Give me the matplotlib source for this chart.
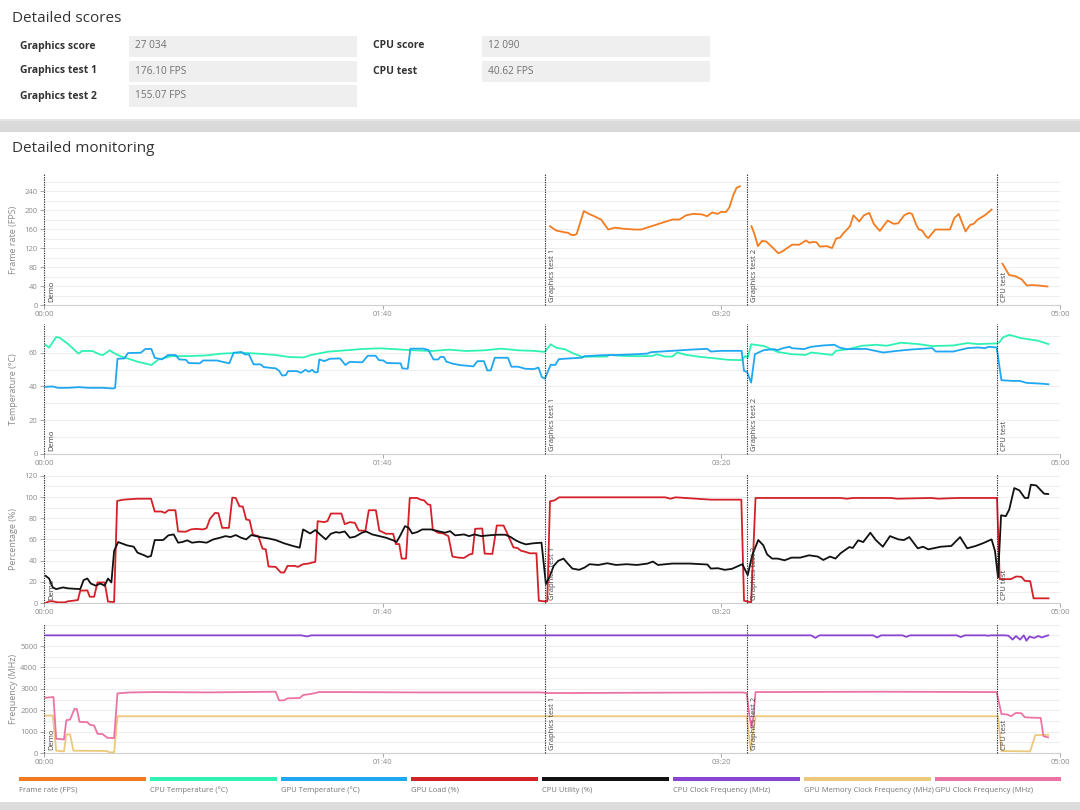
import numpy as np
import matplotlib
matplotlib.use('Agg')
import matplotlib.pyplot as plt
from matplotlib.patches import Rectangle
import matplotlib.transforms as mtransforms

plt.rcParams['font.family'] = ['Open Sans', 'DejaVu Sans']

nan = np.nan

# ---------------- data ----------------
score_labels_left = ["Graphics score", "Graphics test 1", "Graphics test 2"]
score_values_left = ["27 034", "176.10 FPS", "155.07 FPS"]
score_labels_right = ["CPU score", "CPU test"]
score_values_right = ["12 090", "40.62 FPS"]

marker_times = [0, 148, 207.5, 281.5]
marker_names = ["Demo", "Graphics test 1", "Graphics test 2", "CPU test"]

xtick_vals = [0, 100, 200, 300]
xtick_labels = ["00:00", "01:40", "03:20", "05:00"]

legend_names = ["Frame rate (FPS)", "CPU Temperature (°C)", "GPU Temperature (°C)",
                "GPU Load (%)", "CPU Utility (%)", "CPU Clock Frequency (MHz)",
                "GPU Memory Clock Frequency (MHz)", "GPU Clock Frequency (MHz)"]

fps_t = [149.4, 151.2, 153.8, 154.8, 155.6, 156.6, 157.3, 159.4, 160.9, 162.5, 164.5, 166.6,
         168.6, 170.7, 174.2, 176.3, 179.4, 182.4, 185.5, 187.6, 189.6, 191.7, 194.2, 195.8,
         197.3, 198.9, 199.9, 201.4, 202.4, 203.5, 204.5, 205.5, nan,
         208.9, 209.9, 210.8, 212.0, 213.2, 215.3, 216.8, 217.8, 220.9, 223.0, 225.0, 226.0,
         227.1, 228.1, 229.1, 231.1, 232.7, 233.9, 235.0, 236.3, 238.0, 239.0, 240.7, 242.1,
         243.7, 245.0, 246.8, 249.1, 250.9, 252.2, 254.0, 255.4, 256.3, 257.5, 258.3, 259.3,
         260.4, 261.1, 263.2, 265.5, 267.5, 268.8, 270.1, 272.1, 273.5, 274.5, 275.7, 277.8,
         279.8, nan,
         283.0, 285.0, 286.7, 288.7, 290.2, 291.7, 293.8, 296.3]
fps_v = [166, 157, 153, 152, 148, 147, 150, 198, 192, 187, 180, 159,
         163, 161, 159, 159, 166, 173, 180, 180, 189, 192, 191, 187,
         195, 192, 196, 196, 206, 231, 247, 250, nan,
         166, 147, 124, 135, 134, 120, 109, 112, 127, 127, 136, 131,
         133, 132, 123, 124, 120, 140, 142, 153, 166, 189, 176, 189,
         194, 171, 156, 178, 171, 172, 189, 194, 192, 170, 159, 157,
         145, 141, 159, 159, 159, 183, 192, 155, 169, 171, 180, 189,
         201, nan,
         87, 63, 61, 54, 41, 42, 41, 39]

cpu_temp_t = [0.5, 1.5, 3.6, 4.6, 7.2, 10.2, 11.2, 14.3, 16.4, 17.4, 19.4, 21.0, 22.5, 27.6,
              31.7, 33.8, 37.8, 42.9, 48.0, 52.1, 58.3, 63.4, 68.5, 72.6, 76.7, 78.7, 80.8,
              83.8, 89.0, 94.0, 99.2, 104.3, 109.4, 114.5, 119.6, 124.7, 129.9, 135.0, 140.0,
              144.5, 147.9, 149.6, 151.2, 153.8, 156.4, 159.0, 162.6, 166.3, 166.8, 170.9,
              175.1, 179.8, 180.8, 183.4, 185.5, 187.0, 189.6, 193.8, 197.9, 202.0, 206.0,
              207.1, 207.8, 208.8, 212.5, 216.6, 220.8, 224.9, 226.5, 232.7, 233.8, 237.4,
              241.6, 245.8, 248.8, 253.0, 258.2, 262.3, 268.5, 272.7, 275.8, 281.3, 282.1,
              283.1, 285.0, 288.3, 293.5, 296.6]
cpu_temp_v = [64.6, 63.0, 69.3, 68.9, 65.0, 59.4, 61.0, 61.0, 59.0, 58.6, 61.4, 59.4, 58.0, 54.7,
              52.7, 56.0, 58.0, 58.0, 58.4, 59.4, 60.0, 59.4, 58.6, 57.4, 57.2, 58.6, 59.4,
              60.6, 61.4, 62.2, 62.6, 62.0, 61.4, 61.0, 61.8, 61.0, 61.4, 62.4, 61.4,
              61.1, 60.5, 65.0, 63.0, 62.0, 59.5, 57.5, 57.7, 57.7, 58.7, 58.1,
              57.9, 58.1, 59.1, 57.7, 57.7, 60.1, 58.7, 57.5, 56.7, 55.8, 55.6,
              58.1, 57.0, 65.0, 64.0, 60.5, 59.1, 58.7, 60.1, 58.7, 61.1, 62.1,
              64.1, 64.7, 64.1, 65.9, 65.1, 63.9, 64.3, 65.7, 65.1, 65.5, 66.1,
              69.0, 70.6, 68.7, 67.1, 65.1]

gpu_temp_t = [0.5, 2.6, 4.1, 7.2, 10.2, 13.3, 17.4, 20.4, 21.0, 21.7, 23.7, 24.8, 28.6, 29.9,
              31.7, 32.7, 34.8, 36.6, 38.9, 39.9, 41.9, 42.7, 46.0, 47.0, 51.1, 52.1, 54.7,
              56.0, 58.3, 59.3, 60.5, 61.9, 63.9, 64.9, 66.5, 68.5, 69.5, 70.3, 71.4, 72.1,
              74.6, 75.9, 77.2, 78.2, 79.2, 80.0, 80.8, 81.3, 82.8, 84.4, 87.4, 89.0, 90.2,
              91.5, 94.0, 95.6, 97.9, 98.9, 100.2, 101.2, 105.3, 105.8, 107.4, 108.2, 112.0,
              113.5, 115.0, 116.4, 117.1, 118.1, 118.8, 120.7, 122.7, 125.8, 126.8, 128.0,
              129.9, 130.9, 131.9, 133.1, 137.0, 138.0, 140.0, 142.1, 144.7, 146.0, 147.0,
              147.9, 149.6, 151.0, 152.0, 154.3, 159.0, 159.5, 164.7, 169.9, 175.1, 178.2,
              179.2, 185.5, 191.7, 195.8, 196.9, 200.0, 206.0, 206.7, 207.6, 208.8, 209.9,
              212.5, 215.6, 216.6, 218.2, 220.2, 220.8, 224.4, 226.5, 230.1, 233.4, 234.8,
              236.9, 242.6, 247.8, 251.9, 256.1, 262.3, 263.3, 268.5, 272.7, 275.8, 277.9,
              278.9, 281.3, 282.7, 286.0, 288.1, 290.2, 294.3, 296.6]
gpu_temp_v = [39.8, 40.0, 39.2, 39.2, 39.6, 39.2, 39.2, 38.8, 39.2, 56.4, 56.6, 59.8, 60.0, 62.2,
              62.2, 57.0, 56.0, 58.6, 58.6, 56.0, 55.8, 53.9, 53.7, 55.4, 55.4, 54.9, 53.7,
              60.0, 60.4, 59.0, 59.0, 53.1, 53.1, 51.5, 51.1, 50.7, 49.1, 46.5, 46.7, 49.1,
              49.1, 48.1, 49.9, 48.7, 49.9, 48.3, 48.5, 56.0, 55.0, 56.4, 56.6, 52.7, 54.5,
              54.5, 54.3, 58.2, 58.2, 55.6, 55.4, 53.9, 53.7, 50.7, 50.5, 62.4, 62.4,
              61.6, 56.0, 56.0, 57.6, 57.4, 54.7, 53.5, 52.7, 52.1, 51.9, 55.0,
              55.0, 49.5, 49.5, 57.0, 57.0, 51.7, 51.7, 50.5, 50.3, 51.2, 45.6,
              44.6, 52.8, 52.8, 56.2, 56.5, 57.1, 57.9, 58.5, 58.7, 59.1, 59.5,
              60.3, 61.1, 61.9, 62.3, 60.7, 61.1, 61.1, 49.2, 48.6, 42.3, 59.1,
              61.5, 62.1, 61.5, 62.7, 63.5, 62.7, 62.1, 63.5, 64.3, 64.7, 63.1,
              62.1, 62.3, 60.1, 61.1, 61.9, 62.7, 60.7, 60.7, 62.7, 63.1, 62.7,
              63.5, 63.1, 43.7, 43.3, 43.3, 42.1, 41.7, 41.3]

gpu_load_t = [0.5, 1.5, 2.6, 4.1, 6.1, 7.1, 8.7, 10.0, 10.7, 12.8, 13.5, 14.8, 15.8, 17.9, 18.9,
              20.7, 21.6, 23.5, 27.6, 31.6, 32.7, 34.7, 35.7, 36.7, 38.8, 39.6, 41.8, 43.4,
              44.9, 46.9, 48.0, 49.0, 50.5, 51.5, 52.6, 54.6, 55.6, 56.6, 57.7, 58.7, 59.7,
              60.7, 61.7, 63.3, 64.5, 65.5, 66.3, 68.4, 69.9, 70.9, 71.9, 74.0, 75.0, 76.5,
              78.1, 79.1, 80.1, 80.8, 82.7, 83.7, 84.7, 87.8, 88.8, 90.3, 91.8, 92.9, 94.9,
              95.9, 98.0, 99.0, 101.0, 103.1, 103.9, 104.9, 105.6, 106.9, 108.0, 110.2, 111.2,
              112.2, 113.3, 114.1, 114.8, 116.3, 117.9, 119.4, 120.6, 122.4, 124.0, 125.7,
              126.5, 127.3, 129.4, 130.1, 132.4, 133.7, 135.7, 136.7, 138.6, 139.8, 140.8,
              142.3, 143.4, 145.4, 146.1, 147.5, 148.6, 149.4, 150.8, 152.1, 183.4, 185.0,
              186.5, 196.9, 205.9, 206.7, 208.8, 210.1, 235.2, 237.0, 239.0, 250.0, 252.0,
              262.0, 264.0, 270.0, 272.0, 281.4, 282.2, 285.5, 287.0, 288.6, 289.6, 291.2,
              292.2, 296.6]
gpu_load_v = [0, 1.6, 1.6, 0.6, 0.6, 1.6, 2.2, 2.8, 11.6, 11.9, 5.9, 5.9, 19.4, 19.4, 1.3,
              0.9, 96.3, 97.5, 98.4, 98.4, 86.3, 86.3, 85.0, 87.5, 87.5, 67.5, 67.2, 69.4,
              70.0, 69.4, 70.6, 79.4, 85.0, 84.7, 70.9, 70.9, 99.4, 99.1, 91.3, 90.9, 78.8,
              78.1, 64.4, 63.1, 51.3, 50.6, 34.4, 34.1, 28.8, 28.8, 35.0, 35.0, 34.1, 36.6,
              37.2, 38.1, 38.8, 77.2, 76.3, 77.2, 84.4, 84.4, 74.4, 76.3, 75.6, 68.4, 68.1,
              87.5, 87.5, 68.4, 65.3, 65.3, 55.6, 55.6, 41.9, 41.9, 99.1, 99.1, 97.5,
              96.9, 93.1, 92.5, 69.4, 66.3, 65.6, 63.1, 43.8, 42.8, 42.5, 45.9,
              46.3, 70.0, 70.3, 46.6, 46.3, 73.1, 73.1, 66.3, 52.5, 51.9, 49.4,
              48.1, 46.9, 46.9, 2.2, 1.6, 1.6, 95.9, 96.9, 99.7, 99.7, 98.4,
              99.7, 97.5, 97.5, 2.2, 0.6, 99.1, 99.1, 98.4, 99.1, 99.1, 98.4,
              99.1, 98.4, 99.1, 99.1, 99.1, 22.5, 22.5, 25.0, 24.7, 20.9, 20.6,
              4.4, 4.4]

cpu_util_t = [0.5, 1.5, 2.6, 3.6, 5.6, 7.1, 10.7, 11.7, 12.8, 13.8, 15.3, 16.6, 17.9, 18.9, 19.9,
              20.7, 21.9, 24.5, 26.5, 27.6, 29.6, 30.6, 31.6, 32.7, 35.2, 36.7, 38.3, 39.6,
              40.8, 42.3, 43.7, 45.9, 48.0, 50.0, 52.0, 53.6, 55.1, 56.6, 58.2, 59.7, 61.2,
              63.8, 66.3, 68.4, 70.9, 73.5, 75.5, 76.5, 78.6, 80.1, 81.6, 83.2, 84.7, 86.2,
              87.2, 88.8, 90.3, 91.8, 93.9, 95.1, 96.9, 99.0, 101.0, 103.1, 104.1, 105.1,
              106.6, 107.7, 108.7, 110.2, 111.7, 114.3, 116.3, 118.4, 119.9, 121.4, 124.0,
              125.5, 127.1, 129.1, 131.2, 133.7, 136.2, 137.8, 139.3, 140.8, 142.3, 144.4,
              146.9, 148.2, 149.2, 150.5, 151.8, 153.4, 154.4, 156.0, 158.0, 159.6, 161.1,
              163.7, 166.3, 168.9, 172.0, 175.1, 178.2, 179.8, 181.3, 185.5, 190.7, 195.9,
              196.9, 199.0, 201.0, 203.1, 206.2, 207.8, 209.1, 210.9, 212.4, 213.5, 215.0,
              216.6, 218.7, 220.7, 223.3, 225.9, 228.5, 230.1, 232.1, 233.7, 235.2, 237.8,
              238.8, 240.4, 241.9, 244.0, 245.6, 247.7, 249.8, 252.3, 253.9, 255.5, 258.0,
              259.6, 261.1, 264.8, 267.9, 270.5, 272.6, 275.1, 277.2, 279.8, 280.8, 281.7,
              282.6, 284.0, 285.0, 286.5, 288.0, 289.6, 290.6, 291.4, 293.0, 294.0, 295.3,
              296.5]
cpu_util_v = [25.6, 23.1, 14.7, 13.1, 14.7, 13.8, 13.1, 21.6, 23.1, 18.4, 16.3, 18.4, 16.3, 23.1, 19.4,
              49.1, 57.5, 54.4, 53.1, 47.5, 45.0, 43.4, 44.4, 59.4, 59.4, 63.8, 64.7, 56.9,
              57.5, 59.1, 56.9, 57.8, 56.9, 60.0, 61.6, 63.1, 62.2, 64.1, 61.6, 60.0, 64.1,
              62.2, 60.9, 59.4, 56.3, 53.8, 52.2, 69.4, 65.6, 68.8, 64.4, 60.0, 65.3, 66.9,
              66.3, 67.5, 61.6, 62.5, 66.3, 67.5, 64.7, 63.1, 61.6, 59.1, 57.5, 63.1,
              72.5, 70.9, 65.6, 66.9, 69.4, 69.4, 67.8, 66.3, 67.8, 63.8, 64.7,
              63.1, 64.7, 63.1, 63.8, 64.4, 64.4, 62.2, 59.1, 56.9, 55.3, 56.3,
              56.9, 17.8, 24.1, 35.0, 39.7, 41.9, 38.1, 32.5, 31.3, 33.4, 36.6,
              35.9, 37.5, 35.9, 36.6, 35.9, 37.2, 39.1, 35.9, 37.2, 37.2, 36.3,
              32.5, 32.8, 31.3, 32.2, 36.6, 26.3, 45.0, 59.4, 54.4, 45.9, 41.9,
              41.9, 40.3, 42.8, 42.8, 45.0, 43.8, 40.6, 43.8, 41.9, 46.9, 52.8,
              51.9, 59.1, 57.5, 66.3, 59.4, 53.1, 63.1, 60.0, 59.4, 62.2, 51.6,
              53.1, 50.6, 53.1, 53.8, 62.2, 51.6, 53.8, 56.3, 60.0, 49.1, 24.1,
              82.8, 81.9, 88.1, 108.4, 106.3, 99.1, 99.1, 111.6, 110.9, 107.5, 103.1,
              102.8]

cpu_clock_t = [0.5, 60.0, 76.0, 77.6, 79.0, 120.0, 180.0, 226.5, 227.8, 229.0, 244.8, 246.0,
               247.2, 253.5, 254.6, 255.8, 269.5, 270.7, 271.9, 278.0, 278.8, 279.6, 281.9,
               283.8, 284.8, 286.0, 287.0, 288.2, 289.3, 290.1, 291.0, 292.4, 293.6, 294.6,
               296.5]
cpu_clock_v = [5500, 5500, 5500, 5450, 5500, 5500, 5500, 5500, 5380, 5500, 5500, 5400,
               5500, 5500, 5430, 5500, 5500, 5420, 5500, 5500, 5480, 5500, 5500,
               5500, 5480, 5300, 5470, 5300, 5500, 5250, 5440, 5380, 5470, 5400,
               5500]

gpu_clock_t = [0.5, 2.8, 3.6, 5.9, 6.6, 7.7, 9.0, 9.7, 10.5, 12.8, 13.6, 14.8, 15.8, 17.3, 18.7,
               20.7, 21.7, 25.5, 32.7, 48.0, 58.2, 68.4, 69.4, 70.9, 71.9, 75.5, 76.5, 78.6,
               80.1, 81.1, 88.8, 109.2, 129.6, 146.4, 149.2, 206.2, 207.5, 208.3, 208.9,
               209.5, 210.1, 247.7, 281.3, 282.7, 284.5, 285.5, 287.0, 288.6, 289.6, 291.2,
               294.3, 295.1, 296.5]
gpu_clock_v = [2585, 2616, 666, 635, 1533, 1563, 2059, 2059, 1455, 1440, 1316, 1285, 898, 882, 712,
               697, 2786, 2833, 2848, 2833, 2848, 2864, 2461, 2461, 2554, 2570, 2709, 2755,
               2802, 2848, 2848, 2833, 2833, 2833, 2802, 2833, 2802, 1718, 1176,
               1718, 2848, 2864, 2848, 1827, 1796, 1718, 1873, 1858, 1672, 1656,
               1641, 789, 728]

gpu_mem_t = [0.5, 2.6, 3.6, 5.9, 6.6, 7.7, 8.7, 18.4, 19.4, 20.7, 21.7, 146.4, 207.5, 208.1,
             208.7, 209.5, 210.1, 281.7, 282.7, 291.2, 292.7, 296.5]
gpu_mem_v = [1749, 1749, 108, 77, 867, 867, 108, 93, 31, 31, 1718, 1718, 1718, 944,
             93, 1099, 1718, 1718, 93, 77, 836, 851]

colors = ['#f47c20', '#2ef2b4', '#1fa8f2', '#d42028', '#111111', '#8a44d4', '#ecc97a', '#ec74a4']

# ---------------- figure ----------------
W, H = 1080, 810
fig = plt.figure(figsize=(10.8, 8.1), dpi=100)


def fx(x):
    return x / W


def fy(y):
    return 1 - y / H


def frect(x0, y0, x1, y1, color, z=0):
    fig.patches.append(Rectangle((fx(x0), fy(y1)), fx(x1) - fx(x0), fy(y0) - fy(y1),
                                 transform=fig.transFigure, facecolor=color,
                                 edgecolor='none', zorder=z))

# page background bands
frect(0, 121, 1080, 132, '#d9d9d9')
frect(0, 119, 1080, 121, '#e6e6e6')
frect(0, 802, 1080, 810, '#dcdcdc')

# header texts
fig.text(fx(12), fy(18), "Detailed scores", fontsize=11, color='#333333', va='center', ha='left')
fig.text(fx(12), fy(149), "Detailed monitoring", fontsize=11, color='#333333', va='center',
         ha='left')

row_y = [46, 71, 96]
for i, (lab, val) in enumerate(zip(score_labels_left, score_values_left)):
    y = row_y[i]
    frect(129, y - 10.5, 357, y + 10.5, '#efefef')
    fig.text(fx(20), fy(y), lab, fontsize=7.5, fontweight='bold', color='#333333', va='center')
    fig.text(fx(135), fy(y), val, fontsize=7.3, color='#707070', va='center')
for i, (lab, val) in enumerate(zip(score_labels_right, score_values_right)):
    y = row_y[i]
    frect(482, y - 10.5, 710, y + 10.5, '#efefef')
    fig.text(fx(373), fy(y), lab, fontsize=7.5, fontweight='bold', color='#333333', va='center')
    fig.text(fx(488), fy(y), val, fontsize=7.3, color='#707070', va='center')

# ---------------- panels ----------------
left_px, right_px = 44, 1060
panels = [
    dict(top=174, bottom=305, ymax=276, major=40, minor=20, label="Frame rate (FPS)"),
    dict(top=324, bottom=454, ymax=77, major=20, minor=10, label="Temperature (°C)"),
    dict(top=474, bottom=603, ymax=121.7, major=20, minor=10, label="Percentage (%)"),
    dict(top=624, bottom=753, ymax=6030, major=1000, minor=500, label="Frequency (MHz)",
         last=5000),
]

axes = []
for p in panels:
    ax = fig.add_axes([fx(left_px), fy(p['bottom']), fx(right_px) - fx(left_px),
                       fy(p['top']) - fy(p['bottom'])])
    ax.set_xlim(0, 300)
    ax.set_ylim(0, p['ymax'])
    for s in ['top', 'right', 'left']:
        ax.spines[s].set_visible(False)
    ax.spines['bottom'].set_color('#cfcfcf')
    ax.spines['bottom'].set_linewidth(0.8)
    last = p.get('last', p['ymax'])
    ax.set_yticks(np.arange(0, last + 0.01, p['major']))
    ax.set_yticks(np.arange(0, p['ymax'] + 0.01, p['minor']), minor=True)
    ax.grid(which='both', axis='y', color='#eeeeee', lw=0.8, zorder=0)
    ax.set_axisbelow(True)
    ax.tick_params(axis='y', which='major', length=3, width=0.6, color='#9a9a9a',
                   labelcolor='#8a8a8a', labelsize=5.5, pad=1.5)
    ax.tick_params(axis='y', which='minor', length=0)
    ax.set_xticks(xtick_vals)
    ax.set_xticklabels(xtick_labels)
    ax.tick_params(axis='x', length=3, width=0.6, color='#9a9a9a', labelcolor='#8a8a8a',
                   labelsize=5.5, pad=1.5)
    ax.set_ylabel(p['label'], fontsize=6.5, color='#8a8a8a')
    ax.yaxis.set_label_coords(-0.026, 0.5)
    trans = mtransforms.blended_transform_factory(ax.transData, ax.transAxes)
    for mt, mn in zip(marker_times, marker_names):
        ax.axvline(mt, color='#333333', lw=0.8, ls=(0, (1.2, 1.0)), clip_on=False, zorder=5)
        ax.text(mt + 1.2, 0.025, mn, rotation=90, fontsize=5.5, color='#444444',
                ha='left', va='bottom', transform=trans, zorder=6)
    axes.append(ax)

lw = 1.3
ax1, ax2, ax3, ax4 = axes
ax1.plot(fps_t, fps_v, color=colors[0], lw=lw, zorder=3)
ax2.plot(cpu_temp_t, cpu_temp_v, color=colors[1], lw=lw, zorder=3)
ax2.plot(gpu_temp_t, gpu_temp_v, color=colors[2], lw=lw, zorder=3)
ax3.plot(gpu_load_t, gpu_load_v, color=colors[3], lw=lw, zorder=3)
ax3.plot(cpu_util_t, cpu_util_v, color=colors[4], lw=lw, zorder=3)
ax4.plot(cpu_clock_t, cpu_clock_v, color=colors[5], lw=lw, zorder=3)
ax4.plot(gpu_mem_t, gpu_mem_v, color=colors[6], lw=lw, zorder=3)
ax4.plot(gpu_clock_t, gpu_clock_v, color=colors[7], lw=lw, zorder=3)

# ---------------- legend ----------------
leg_x0 = 19
leg_w = 130.8
for i, (name, c) in enumerate(zip(legend_names, colors)):
    x0 = leg_x0 + i * leg_w
    frect(x0, 777, x0 + leg_w - 4, 781, c, z=2)
    fig.text(fx(x0), fy(790), name, fontsize=5.5, color='#777777', va='center', ha='left')

fig.savefig('out.png', dpi=100)
